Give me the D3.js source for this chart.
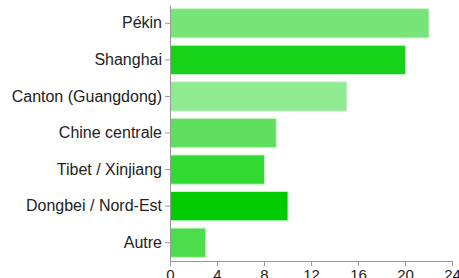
<!DOCTYPE html>
<html>
<head>
<meta charset="utf-8">
<script src="https://cdn.jsdelivr.net/npm/d3@7"></script>
<style>
  body { margin: 0; background: #fff; }
  text { font-family: "Liberation Sans", Arial, sans-serif; fill: #222; }
</style>
</head>
<body>
<div id="chart"></div>
<script>
var categories = ["Pékin", "Shanghai", "Canton (Guangdong)", "Chine centrale", "Tibet / Xinjiang", "Dongbei / Nord-Est", "Autre"];
var values = [22, 20, 15, 9, 8, 10, 3];
var barColors = ["#77e47a", "#16d31a", "#8feb8f", "#5fde60", "#33d933", "#00cc00", "#4cdd4c"];
var xTicks = [0, 4, 8, 12, 16, 20, 24];

var margin = {top: 5, right: 7, bottom: 17, left: 170},
    width = 459 - margin.left - margin.right,
    height = 278 - margin.top - margin.bottom;

var svg = d3.select("#chart")
  .append("svg")
    .attr("width", 459)
    .attr("height", 278)
  .append("g")
    .attr("transform", "translate(" + margin.left + "," + margin.top + ")");

var x = d3.scaleLinear()
  .domain([0, 24])
  .range([0, width]);

var y = d3.scaleBand()
  .domain(categories)
  .range([0, height])
  .paddingInner(0.2)
  .paddingOuter(0.1);

// bars
svg.selectAll("rect.bar")
  .data(values)
  .enter()
  .append("rect")
    .attr("class", "bar")
    .attr("x", 0.5)
    .attr("y", function(d, i) { return y(categories[i]); })
    .attr("width", function(d) { return x(d); })
    .attr("height", y.bandwidth())
    .attr("fill", function(d, i) { return barColors[i]; })
    .attr("stroke", "#c8f5c8")
    .attr("stroke-width", 1);

// x axis (labels run off the bottom edge, as in the original)
var xAxis = svg.append("g")
  .attr("transform", "translate(0," + height + ")")
  .call(d3.axisBottom(x).tickValues(xTicks).tickSize(5).tickSizeOuter(5));
xAxis.selectAll("path, line").attr("stroke", "#999");
xAxis.selectAll(".tick text")
  .style("font-size", "15px");

// y axis
var yAxis = svg.append("g")
  .call(d3.axisLeft(y).tickSize(5).tickSizeOuter(0));
yAxis.selectAll("path, line").attr("stroke", "#999");
yAxis.selectAll(".tick text")
  .attr("x", -8)
  .style("font-size", "16px");
</script>
</body>
</html>
